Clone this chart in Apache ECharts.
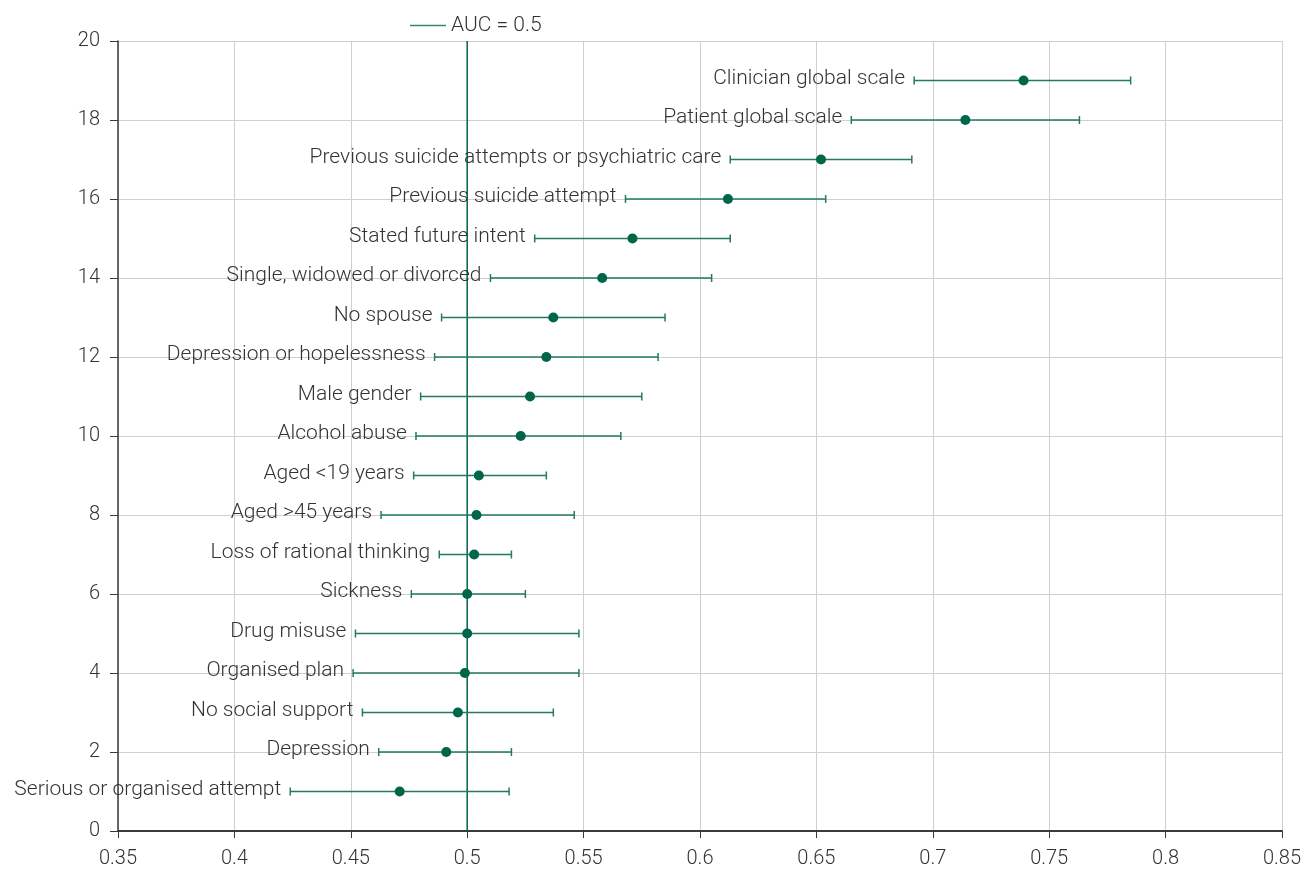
<!DOCTYPE html>
<html>
<head>
<meta charset="utf-8">
<script src="https://cdn.jsdelivr.net/npm/echarts@6/dist/echarts.min.js"></script>
<style>
  html, body { margin: 0; padding: 0; background: #fff; }
  #chart { width: 1304px; height: 870px; }
</style>
</head>
<body>
<div id="chart"></div>
<script>
// Predictors of repeat self-harm: AUC with 95% confidence interval
const factors = [
  'Clinician global scale',
  'Patient global scale',
  'Previous suicide attempts or psychiatric care',
  'Previous suicide attempt',
  'Stated future intent',
  'Single, widowed or divorced',
  'No spouse',
  'Depression or hopelessness',
  'Male gender',
  'Alcohol abuse',
  'Aged <19 years',
  'Aged >45 years',
  'Loss of rational thinking',
  'Sickness',
  'Drug misuse',
  'Organised plan',
  'No social support',
  'Depression',
  'Serious or organised attempt'
];
const rowPos = [19, 18, 17, 16, 15, 14, 13, 12, 11, 10, 9, 8, 7, 6, 5, 4, 3, 2, 1];
const auc    = [0.739, 0.714, 0.652, 0.612, 0.571, 0.558, 0.537, 0.534, 0.527, 0.523, 0.505, 0.504, 0.503, 0.500, 0.500, 0.499, 0.496, 0.491, 0.471];
const ciLow  = [0.692, 0.665, 0.613, 0.568, 0.529, 0.510, 0.489, 0.486, 0.480, 0.478, 0.477, 0.463, 0.488, 0.476, 0.452, 0.451, 0.455, 0.462, 0.424];
const ciHigh = [0.785, 0.763, 0.691, 0.654, 0.613, 0.605, 0.585, 0.582, 0.575, 0.566, 0.534, 0.546, 0.519, 0.525, 0.548, 0.548, 0.537, 0.519, 0.518];
const refAuc = 0.5;
const xTicks = [0.35, 0.85, 0.05];   // min, max, step
const yTicks = [0, 20, 2];

const GREEN = '#00664a';
const BAR = '#237a5f';
const FONT = 'Roboto';
const TEXT = '#333333';

const ciData = factors.map((f, i) => [ciLow[i], ciHigh[i], rowPos[i], f]);
const pointData = factors.map((f, i) => [auc[i], rowPos[i]]);

const chart = echarts.init(document.getElementById('chart'), null, { renderer: 'canvas' });

chart.setOption({
  animation: false,
  textStyle: { fontFamily: FONT },
  grid: { left: 118, right: 20, top: 41, bottom: 39, containLabel: false },
  legend: {
    top: 10,
    left: 405,
    data: [{ name: 'AUC = 0.5', icon: 'path://M0,0 L36,0 L36,1.4 L0,1.4 Z' }],
    itemWidth: 36,
    itemHeight: 2,
    itemGap: 8,
    textStyle: { fontFamily: FONT, fontSize: 21, fontWeight: 300, color: TEXT }
  },
  xAxis: {
    type: 'value',
    min: xTicks[0], max: xTicks[1], interval: xTicks[2],
    axisLine: { show: true, onZero: false, lineStyle: { color: '#3a3a3a', width: 2 } },
    axisTick: { show: true, inside: false, length: 7, lineStyle: { color: '#3a3a3a' } },
    axisLabel: {
      fontFamily: FONT, fontSize: 20, fontWeight: 300, color: TEXT, margin: 18,
      formatter: v => String(+v.toFixed(2))
    },
    splitLine: { show: true, lineStyle: { color: '#cfcfcf', width: 1 } }
  },
  yAxis: {
    type: 'value',
    min: yTicks[0], max: yTicks[1], interval: yTicks[2],
    axisLine: { show: true, onZero: false, lineStyle: { color: '#3a3a3a', width: 1.5 } },
    axisTick: { show: true, inside: false, length: 8, lineStyle: { color: '#3a3a3a' } },
    axisLabel: { fontFamily: FONT, fontSize: 20, fontWeight: 300, color: TEXT, margin: 18 },
    splitLine: { show: true, lineStyle: { color: '#cfcfcf', width: 1 } }
  },
  series: [
    {
      name: 'AUC = 0.5',
      type: 'line',
      data: [[refAuc, yTicks[0]], [refAuc, yTicks[1]]],
      symbol: 'none',
      lineStyle: { color: GREEN, width: 1.5 },
      itemStyle: { color: '#2f8a6c' },
      z: 3
    },
    {
      name: 'ci',
      type: 'custom',
      data: ciData,
      encode: { x: [0, 1], y: 2 },
      z: 4,
      renderItem: function (params, api) {
        const y = api.value(2);
        const lo = api.coord([api.value(0), y]);
        const hi = api.coord([api.value(1), y]);
        const cap = 4;
        const style = { stroke: BAR, lineWidth: 1.5 };
        return {
          type: 'group',
          children: [
            { type: 'line', shape: { x1: lo[0], y1: lo[1], x2: hi[0], y2: hi[1] }, style: style },
            { type: 'line', shape: { x1: lo[0], y1: lo[1] - cap, x2: lo[0], y2: lo[1] + cap }, style: style },
            { type: 'line', shape: { x1: hi[0], y1: hi[1] - cap, x2: hi[0], y2: hi[1] + cap }, style: style },
            {
              type: 'text',
              x: lo[0] - 9,
              y: lo[1] - 2,
              style: {
                text: api.value(3),
                textAlign: 'right',
                textVerticalAlign: 'middle',
                fontFamily: FONT,
                fontSize: 21,
                fontWeight: 300,
                fill: TEXT
              }
            }
          ]
        };
      }
    },
    {
      name: 'AUC',
      type: 'scatter',
      data: pointData,
      symbol: 'circle',
      symbolSize: 10,
      itemStyle: { color: GREEN, opacity: 1 },
      z: 5
    }
  ]
});
</script>
</body>
</html>
